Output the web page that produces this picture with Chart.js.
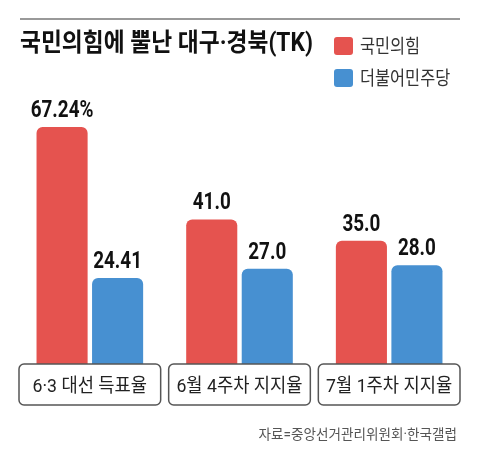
<!DOCTYPE html>
<html>
<head>
<meta charset="utf-8">
<script src="https://cdn.jsdelivr.net/npm/chart.js@4"></script>
<style>
  html, body { margin: 0; padding: 0; background: #fff; }
  #wrap { width: 480px; height: 464px; position: relative; }
</style>
</head>
<body>
<div id="wrap"><canvas id="chart"></canvas></div>
<script>
// --- data ---
const categories = ['6·3 대선 득표율', '6월 4주차 지지율', '7월 1주차 지지율'];
const ppp = [67.24, 41.0, 35.0];      // 국민의힘
const dem = [24.41, 27.0, 28.0];      // 더불어민주당
const decimals = [2, 1, 1];
const seriesNames = ['국민의힘', '더불어민주당'];
const titleText = '국민의힘에 뿔난 대구·경북(TK)';
const sourceText = '자료=중앙선거관리위원회·한국갤럽';

const RED = '#e5534f';
const BLUE = '#4790d1';
// Roboto first so digits, latin and the middle dot stay narrow; hangul falls through to Noto CJK
const KR = 'Roboto, "Noto Sans CJK KR", sans-serif';

// draw text squeezed horizontally (the original uses a condensed face)
function squeezed(ctx, s, x, y, font, color, align, sx) {
    ctx.save();
    ctx.font = font;
    ctx.fillStyle = color;
    ctx.textAlign = align;
    ctx.textBaseline = 'alphabetic';
    ctx.translate(x, y);
    ctx.scale(sx, 1);
    ctx.fillText(s, 0, 0);
    ctx.restore();
}

function roundRect(ctx, x, y, w, h, r) {
    ctx.beginPath();
    ctx.moveTo(x + r, y);
    ctx.arcTo(x + w, y, x + w, y + h, r);
    ctx.arcTo(x + w, y + h, x, y + h, r);
    ctx.arcTo(x, y + h, x, y, r);
    ctx.arcTo(x, y, x + w, y, r);
    ctx.closePath();
}

const decorPlugin = {
    id: 'decor',
    afterDraw(chart) {
        const ctx = chart.ctx;
        const xs = chart.scales.x;

        // top rule
        ctx.save();
        ctx.strokeStyle = '#999';
        ctx.lineWidth = 2;
        ctx.beginPath();
        ctx.moveTo(20, 19);
        ctx.lineTo(460, 19);
        ctx.stroke();
        ctx.restore();

        // title
        squeezed(ctx, titleText, 20, 51, 'bold 25px ' + KR, '#111', 'left', 0.91);

        // legend
        [RED, BLUE].forEach((c, i) => {
            const y = 37 + i * 32;
            ctx.fillStyle = c;
            roundRect(ctx, 334, y, 19, 18, 3);
            ctx.fill();
            squeezed(ctx, seriesNames[i], 360, y + 16, '19px ' + KR, '#333', 'left', 0.86);
        });

        // value labels
        chart.data.datasets.forEach((ds, di) => {
            chart.getDatasetMeta(di).data.forEach((bar, i) => {
                let s = ds.data[i].toFixed(decimals[i]);
                if (i === 0 && di === 0) s += '%';
                squeezed(ctx, s, bar.x, bar.y - 10, 'bold 23px Roboto, sans-serif', '#111', 'center', 0.82);
            });
        });

        // category boxes
        const step = xs.getPixelForValue(1) - xs.getPixelForValue(0);
        categories.forEach((c, i) => {
            const cx = xs.getPixelForValue(i);
            const w = step - 8;
            ctx.save();
            ctx.strokeStyle = '#555';
            ctx.lineWidth = 1.5;
            ctx.fillStyle = '#fff';
            roundRect(ctx, cx - w / 2, 364, w, 41, 5);
            ctx.fill();
            ctx.stroke();
            ctx.restore();
            squeezed(ctx, c, cx, 392, '19px ' + KR, '#222', 'center', 0.93);
        });

        // source
        squeezed(ctx, sourceText, 457, 439, '14px ' + KR, '#555', 'right', 0.97);
    }
};

new Chart(document.getElementById('chart'), {
    type: 'bar',
    data: {
        labels: categories,
        datasets: [
            { label: seriesNames[0], data: ppp, backgroundColor: RED },
            { label: seriesNames[1], data: dem, backgroundColor: BLUE }
        ]
    },
    options: {
        responsive: true,
        maintainAspectRatio: false,
        animation: false,
        layout: { padding: { top: 82, bottom: 100, left: 15, right: 16 } },
        datasets: {
            bar: {
                categoryPercentage: 0.742,
                barPercentage: 0.92,
                borderRadius: { topLeft: 6, topRight: 6, bottomLeft: 0, bottomRight: 0 },
                borderSkipped: 'bottom'
            }
        },
        scales: {
            x: { display: false },
            y: { display: false, min: 0, max: 80 }
        },
        plugins: {
            legend: { display: false },
            tooltip: { enabled: false }
        }
    },
    plugins: [decorPlugin]
});
</script>
</body>
</html>
